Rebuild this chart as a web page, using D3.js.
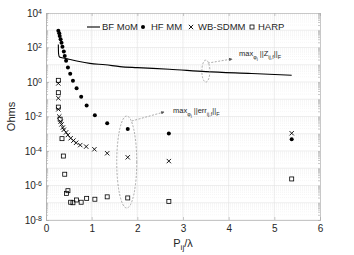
<!DOCTYPE html>
<html lang='en'>
<head>
<meta charset='utf-8'>
<title>Ohms vs P/lambda</title>
<script src='https://d3js.org/d3.v7.min.js'></script>
<style>
  body { margin: 0; background: #fff; }
  text { font-family: 'Liberation Sans', Arial, sans-serif; fill: #262626; }
</style>
</head>
<body>
<script>
'use strict'
const W = 354, H = 255
const margin = {top: 13, right: 34, bottom: 35, left: 46}

// BF MoM curve
const bfX = [0.27, 0.275, 0.29, 0.33, 0.40, 0.50, 0.70, 0.96, 1.30, 1.62, 2.0, 2.7, 3.5, 4.5, 5.38]
const bfY = [150, 45, 30, 26, 24, 21, 16, 12, 10, 7.8, 6.8, 5.5, 4.0, 3.1, 2.45]

// HF MM points
const hfX = [0.27, 0.29, 0.30, 0.32, 0.34, 0.36, 0.39, 0.41, 0.44, 0.48, 0.53, 0.59, 0.67, 0.77, 0.89, 1.07, 1.34, 1.79, 2.69, 5.38]
const hfY = [930, 660, 470, 300, 190, 112, 58, 32, 17, 7, 3, 1.2, 0.43, 0.14, 0.043, 0.012, 0.0041, 0.0019, 0.00103, 0.00048]

// WB-SDMM points
const wbX = [0.27, 0.27, 0.27, 0.29, 0.32, 0.34, 0.37, 0.39, 0.44, 0.48, 0.54, 0.60, 0.66, 0.75, 0.88, 1.06, 1.34, 1.79, 2.69, 5.38]
const wbY = [0.83, 0.115, 0.026, 0.01, 0.005, 0.0035, 0.0023, 0.0017, 0.0012, 8.5e-4, 5.5e-4, 4e-4, 3e-4, 2.2e-4, 1.8e-4, 1.26e-4, 7.4e-5, 4.3e-5, 2.6e-5, 1.07e-3]

// HARP points
const hpX = [0.27, 0.27, 0.27, 0.31, 0.35, 0.38, 0.41, 0.45, 0.48, 0.54, 0.59, 0.67, 0.77, 0.89, 1.07, 1.34, 1.79, 2.69, 5.38]
const hpY = [1.25, 0.24, 0.035, 0.007, 5.2e-4, 5.1e-5, 4.5e-6, 3.5e-7, 5e-7, 1.07e-7, 1.0e-7, 1.45e-7, 1.07e-7, 1.8e-7, 1.6e-7, 2.2e-7, 1.9e-7, 1.2e-7, 2.4e-6]

const xTicks = [0, 1, 2, 3, 4, 5, 6]
const yTickExp = [4, 2, 0, -2, -4, -6, -8]
const legendNames = ['BF MoM', 'HF MM', 'WB-SDMM', 'HARP']

const x = d3.scaleLinear().domain([0, 6]).range([margin.left, W - margin.right])
const y = d3.scaleLog().domain([1e-8, 1e4]).range([H - margin.bottom, margin.top])

const svg = d3.select('body').append('svg')
  .attr('width', W)
  .attr('height', H)

svg.append('rect').attr('width', W).attr('height', H).attr('fill', '#fff')

// grid
const grid = svg.append('g')
const minor = []
for (let e = -8; e < 4; e++)
  for (let m = 1; m < 10; m++) minor.push(m * Math.pow(10, e))
grid.selectAll('line.minor').data(minor).join('line')
  .attr('x1', margin.left).attr('x2', W - margin.right)
  .attr('y1', d => y(d)).attr('y2', d => y(d))
  .attr('stroke', d => Math.abs(Math.log10(d) % 1) < 1e-9 ? '#e3e3e3' : '#f0f0f0')
  .attr('stroke-width', 0.6)
  .attr('stroke-dasharray', d => Math.abs(Math.log10(d) % 1) < 1e-9 ? null : '1,1')
grid.selectAll('line.vx').data(xTicks.slice(1, -1)).join('line')
  .attr('x1', d => x(d)).attr('x2', d => x(d))
  .attr('y1', margin.top).attr('y2', H - margin.bottom)
  .attr('stroke', '#e3e3e3').attr('stroke-width', 0.6)

// axes
const xAxis = d3.axisBottom(x).tickValues(xTicks).tickSize(-3).tickPadding(5).tickFormat(d3.format('d'))
const gx = svg.append('g').attr('transform', `translate(0,${H - margin.bottom})`).call(xAxis)
svg.append('g').attr('transform', `translate(0,${margin.top})`)
  .call(d3.axisTop(x).tickValues(xTicks).tickSize(-3).tickFormat(''))
const yAxis = d3.axisLeft(y).tickValues(yTickExp.map(e => Math.pow(10, e))).tickSize(-3).tickPadding(4).tickFormat('')
const gy = svg.append('g').attr('transform', `translate(${margin.left},0)`).call(yAxis)
svg.append('g').attr('transform', `translate(${W - margin.right},0)`)
  .call(d3.axisRight(y).tickValues(minor).tickSize(-2).tickFormat(''))
svg.append('g').attr('transform', `translate(${margin.left},0)`)
  .call(d3.axisLeft(y).tickValues(minor).tickSize(-2).tickFormat(''))
svg.selectAll('.domain, .tick line').attr('stroke', '#b0b0b0').attr('stroke-width', 0.7)
gx.selectAll('text').attr('font-size', 10).attr('fill', '#262626')

// y tick labels as 10^n
gy.selectAll('.tick').each(function(d) {
  const t = d3.select(this).append('text')
    .attr('x', -4).attr('dy', '0.32em').attr('text-anchor', 'end')
    .attr('font-size', 10)
  t.append('tspan').text('10')
  t.append('tspan').attr('dy', '-0.45em').attr('font-size', 7).text(Math.round(Math.log10(d)))
})

// axis labels
svg.append('text')
  .attr('transform', `translate(15,${(margin.top + H - margin.bottom) / 2}) rotate(-90)`)
  .attr('text-anchor', 'middle').attr('font-size', 11).text('Ohms')
const xl = svg.append('text').attr('x', x(3)).attr('y', 247).attr('text-anchor', 'middle').attr('font-size', 11)
xl.append('tspan').text('P')
xl.append('tspan').attr('dy', 3).attr('font-size', 8).text('ij')
xl.append('tspan').attr('dy', -3).text('/λ')

// series
const line = d3.line().x(d => x(d[0])).y(d => y(d[1]))
svg.append('path')
  .datum(d3.zip(bfX, bfY))
  .attr('d', line.curve(d3.curveMonotoneX))
  .attr('fill', 'none').attr('stroke', '#000').attr('stroke-width', 1.1)

svg.append('g').selectAll('circle').data(d3.zip(hfX, hfY)).join('circle')
  .attr('cx', d => x(d[0])).attr('cy', d => y(d[1])).attr('r', 2).attr('fill', '#000')

const cross = d3.symbol().type(d3.symbolX).size(14)
svg.append('g').selectAll('path').data(d3.zip(wbX, wbY)).join('path')
  .attr('transform', d => `translate(${x(d[0])},${y(d[1])})`)
  .attr('d', cross).attr('fill', 'none').attr('stroke', '#000').attr('stroke-width', 0.9)

svg.append('g').selectAll('rect').data(d3.zip(hpX, hpY)).join('rect')
  .attr('x', d => x(d[0]) - 2).attr('y', d => y(d[1]) - 2)
  .attr('width', 4).attr('height', 4)
  .attr('fill', 'none').attr('stroke', '#000').attr('stroke-width', 0.8)

// legend
const lg = svg.append('g')
const ly = 27
lg.append('line').attr('x1', 87).attr('x2', 100).attr('y1', ly).attr('y2', ly).attr('stroke', '#000').attr('stroke-width', 1.1)
lg.append('circle').attr('cx', 143).attr('cy', ly).attr('r', 2).attr('fill', '#000')
lg.append('path').attr('transform', `translate(191,${ly})`).attr('d', cross).attr('fill', 'none').attr('stroke', '#000').attr('stroke-width', 0.9)
lg.append('rect').attr('x', 250).attr('y', ly - 2).attr('width', 4).attr('height', 4).attr('fill', 'none').attr('stroke', '#000').attr('stroke-width', 0.8)
const lx = [102, 151, 198, 258]
legendNames.forEach((n, i) => {
  lg.append('text').attr('x', lx[i]).attr('y', ly).attr('dy', '0.35em').attr('font-size', 9.5).text(n)
})

// annotations
function maxLabel(tx, ty, sym) {
  const t = svg.append('text').attr('x', tx).attr('y', ty).attr('font-size', 7.5)
  t.append('tspan').text('max')
  t.append('tspan').attr('dy', 3).attr('font-size', 5.5).text('φ')
  t.append('tspan').attr('dy', 1.5).attr('font-size', 4.5).text('i')
  t.append('tspan').attr('dy', -5).attr('dx', 2).attr('font-size', 7.5).text('||' + sym)
  t.append('tspan').attr('dy', 3).attr('font-size', 5.5).text('ij,f')
  t.append('tspan').attr('dy', -3).attr('font-size', 7.5).text('||')
  t.append('tspan').attr('dy', 3).attr('font-size', 5.5).text('F')
}
const dash = '2,1.5'
svg.append('defs').append('marker').attr('id', 'ah').attr('viewBox', '0 0 6 6')
  .attr('refX', 5).attr('refY', 3).attr('markerWidth', 5).attr('markerHeight', 5).attr('orient', 'auto')
  .append('path').attr('d', 'M0,0L6,3L0,6Z').attr('fill', '#555')

// ellipse around BF line
svg.append('ellipse').attr('cx', x(3.5)).attr('cy', y(4.3)).attr('rx', 4).attr('ry', 11)
  .attr('fill', 'none').attr('stroke', '#888').attr('stroke-width', 0.7).attr('stroke-dasharray', dash)
svg.append('line').attr('x1', x(3.5) + 2).attr('y1', y(4.3) - 8).attr('x2', 232).attr('y2', 59)
  .attr('stroke', '#888').attr('stroke-width', 0.7).attr('stroke-dasharray', dash).attr('marker-end', 'url(#ah)')
maxLabel(239, 56, 'Z')

// ellipse around x = 1.8 points
svg.append('ellipse').attr('cx', x(1.79) - 1).attr('cy', 162).attr('rx', 10).attr('ry', 46)
  .attr('fill', 'none').attr('stroke', '#888').attr('stroke-width', 0.7).attr('stroke-dasharray', dash)
svg.append('line').attr('x1', x(1.79) + 4).attr('y1', 121).attr('x2', 164).attr('y2', 112)
  .attr('stroke', '#888').attr('stroke-width', 0.7).attr('stroke-dasharray', dash).attr('marker-end', 'url(#ah)')
maxLabel(173, 113, 'err')
</script>
</body>
</html>
